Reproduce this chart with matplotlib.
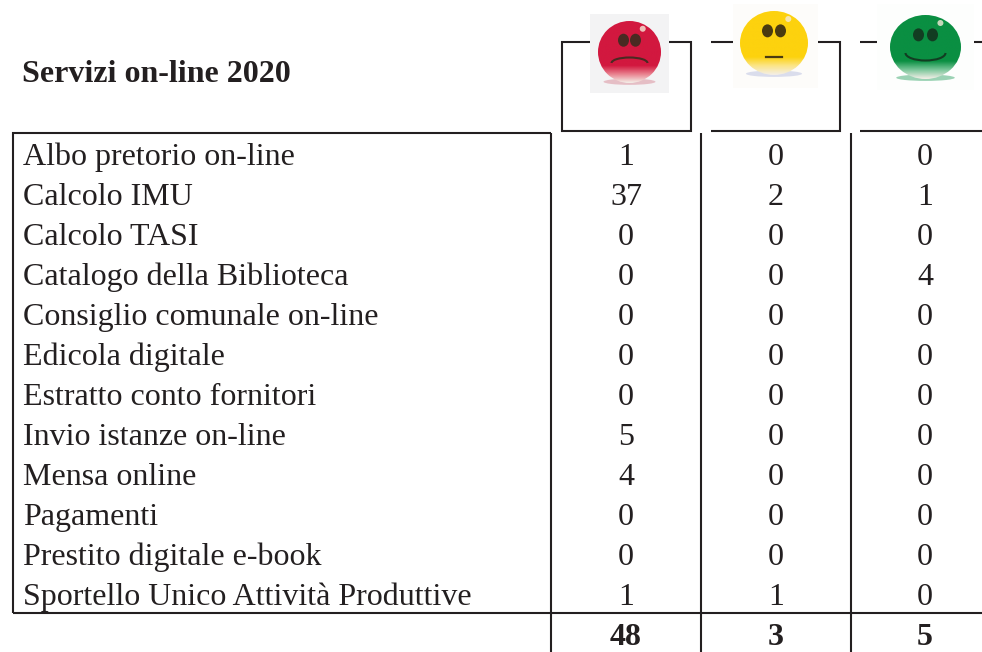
import numpy as np
import matplotlib
matplotlib.use('Agg')
import matplotlib.pyplot as plt
from matplotlib.colors import LinearSegmentedColormap
from matplotlib.patches import Ellipse, Arc, Rectangle

# Table contents
titolo = 'Servizi on-line 2020'
servizi = ['Albo pretorio on-line', 'Calcolo IMU', 'Calcolo TASI',
           'Catalogo della Biblioteca', 'Consiglio comunale on-line',
           'Edicola digitale', 'Estratto conto fornitori',
           'Invio istanze on-line', 'Mensa online', 'Pagamenti',
           'Prestito digitale e-book', 'Sportello Unico Attività Produttive']
rossi = [1, 37, 0, 0, 0, 0, 0, 5, 4, 0, 0, 1]
gialli = [0, 2, 0, 0, 0, 0, 0, 0, 0, 0, 0, 1]
verdi = [0, 1, 0, 4, 0, 0, 0, 0, 0, 0, 0, 0]
totali = [48, 3, 5]

INK = '#231f20'
plt.rcParams['font.family'] = ['Liberation Serif', 'DejaVu Serif']

fig = plt.figure(figsize=(9.82, 6.52), dpi=100)
ax = fig.add_axes([0, 0, 1, 1])
ax.set_xlim(0, 982)
ax.set_ylim(652, 0)
ax.axis('off')


def linea(xs, ys):
    ax.plot(xs, ys, color=INK, lw=1.5, solid_capstyle='butt', solid_joinstyle='miter', zorder=2)


# Table grid
linea([551, 13, 13], [133, 133, 613])
linea([13, 982], [613, 613])
for x in [551, 701, 851]:
    linea([x, x], [133, 652])

# Header boxes, interrupted by the faces
linea([590, 562, 562, 691, 691, 669], [42, 42, 131, 131, 42, 42])
linea([711, 733], [42, 42])
linea([818, 840, 840, 711], [42, 42, 131, 131])
linea([860, 877], [42, 42])
linea([974, 982], [42, 42])
linea([860, 982], [131, 131])


def faccia(cx, cy, rx, ry, base, ombra, chiaro, occhi, tipo, scuro, riquadro):
    # picture background behind the face
    ax.add_patch(Rectangle((riquadro[0], riquadro[1]), riquadro[2], riquadro[3],
                           fc=riquadro[4], ec='none', zorder=3))
    ax.add_patch(Ellipse((cx, cy + ry * 0.96), rx * 1.65, ry * 0.2, fc=ombra, ec='none',
                         alpha=0.5, zorder=4))
    cmap = LinearSegmentedColormap.from_list('f', [(0, base), (0.72, base), (0.86, chiaro), (1, '#f4efe8')])
    grad = np.linspace(0, 1, 200).reshape(-1, 1)
    im = ax.imshow(grad, cmap=cmap, extent=(cx - rx, cx + rx, cy + ry, cy - ry),
                   aspect='auto', zorder=5)
    clip = Ellipse((cx, cy), 2 * rx, 2 * ry, fc='none', ec='none', transform=ax.transData)
    ax.add_patch(clip)
    im.set_clip_path(clip)
    # eyes
    for dx in (-occhi, occhi):
        ax.add_patch(Ellipse((cx + dx, cy - ry * 0.38), 11, 13, fc=scuro, ec='none', zorder=6))
    # highlight
    ax.add_patch(Ellipse((cx + rx * 0.42, cy - ry * 0.75), 6, 6, fc='#f5ead8',
                         ec='none', alpha=0.8, zorder=6))
    # mouth
    if tipo == 'triste':
        ax.add_patch(Arc((cx, cy + 11), 36, 11, theta1=180, theta2=360,
                         color=scuro, lw=1.5, zorder=6))
    elif tipo == 'felice':
        ax.add_patch(Arc((cx, cy + 6), 40, 15, theta1=0, theta2=180,
                         color=scuro, lw=1.5, zorder=6))
    else:
        ax.plot([cx - 8, cx + 8], [cy + 14, cy + 14], color=scuro, lw=1.6, zorder=6)


faccia(629.5, 52, 31.5, 31, '#d2183f', '#d98a98', '#e9828f', 6, 'triste', '#4a2a22',
       (590, 14, 79, 79, '#f3f3f4'))
faccia(774, 43, 34, 32, '#fdd20e', '#b9bfe0', '#fbe58a', 6.5, 'neutra', '#4a3a10',
       (733, 4, 85, 84, '#fdfcfa'))
faccia(925.5, 47, 35.5, 32, '#0a8f42', '#3aa86c', '#7cc79b', 7, 'felice', '#123d22',
       (877, 4, 97, 86, '#fdfefd'))

# Title
ax.text(22, 82, titolo, fontsize=23, fontweight='bold', color=INK, va='baseline', ha='left', zorder=7)

# Rows
colonne = [626, 776, 925]
for i, nome in enumerate(servizi):
    y = 165 + i * 40
    ax.text(23, y, nome, fontsize=23, color=INK, va='baseline', ha='left', zorder=7)
    for x, v in zip(colonne, (rossi[i], gialli[i], verdi[i])):
        ax.text(x, y, str(v), fontsize=23, color=INK, va='baseline', ha='center', zorder=7)

# Totals
for x, v in zip(colonne, totali):
    ax.text(x, 645, str(v), fontsize=23, fontweight='bold', color=INK, va='baseline', ha='center', zorder=7)

ax.set_xlim(0, 982)
ax.set_ylim(652, 0)
fig.savefig('out.png', dpi=100)
